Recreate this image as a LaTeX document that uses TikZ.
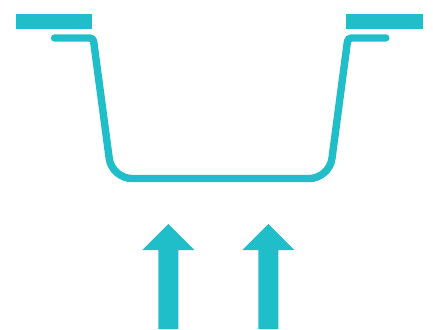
\documentclass[tikz,border=0pt]{standalone}
\usepackage{xcolor}
\definecolor{tealfill}{HTML}{20BEC9}
\tikzset{
  every picture/.style={x=1pt,y=-1pt},
  solidpart/.style={fill=tealfill,draw=none},
  dishline/.style={draw=tealfill,line width=7.4pt,line cap=round},
}
\begin{document}
\begin{tikzpicture}
\useasboundingbox (0,0) rectangle (433,329);
% Two bars on top
\fill[solidpart] (15.5,14) rectangle (92,29);
\fill[solidpart] (346,14) rectangle (423,29);
% Dish outline
\draw[dishline] (54.5,38) [rounded corners=3.5pt] -- (93.2,38)
  [rounded corners=20pt] -- (111.9,178.5) -- (329.3,178.5)
  [rounded corners=3.5pt] -- (347.9,38) [sharp corners] -- (385.8,38);
% Arrows pointing up
\foreach \x in {168.3,268.3}{
  \fill[solidpart] (\x,224) -- (\x+26,250) -- (\x+10,250) -- (\x+10,329)
    -- (\x-10,329) -- (\x-10,250) -- (\x-26,250) -- cycle;
}
\end{tikzpicture}
\end{document}
